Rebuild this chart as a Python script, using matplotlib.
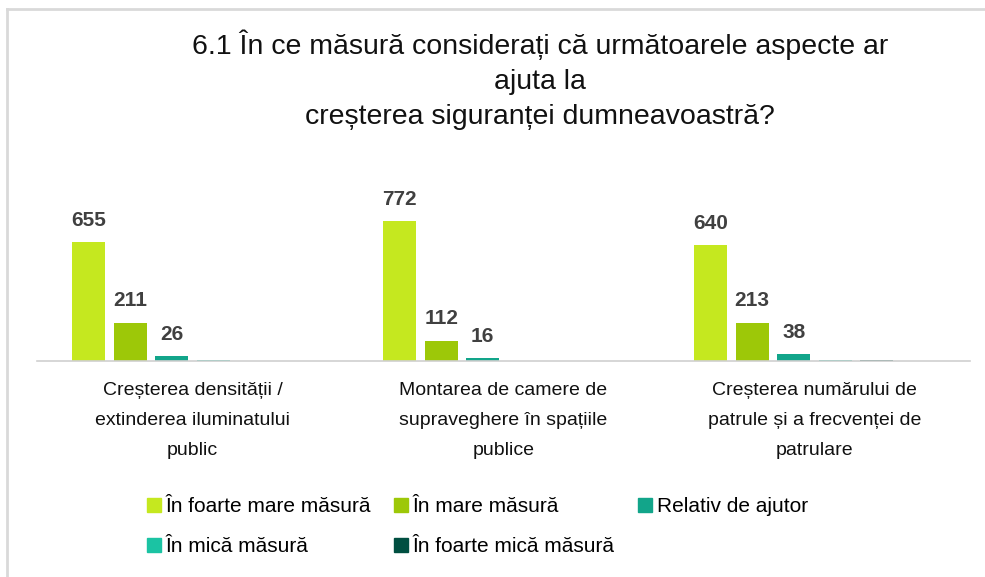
import matplotlib.pyplot as plt
from matplotlib.lines import Line2D
import numpy as np

plt.rcParams['font.family'] = ['Liberation Sans', 'DejaVu Sans']

categories = ["Creșterea densității /\nextinderea iluminatului\npublic",
              "Montarea de camere de\nsupraveghere în spațiile\npublice",
              "Creșterea numărului de\npatrule și a frecvenței de\npatrulare"]

series_names = ["În foarte mare măsură", "În mare măsură", "Relativ de ajutor",
                "În mică măsură", "În foarte mică măsură", ""]

foarte_mare = [655, 772, 640]
mare = [211, 112, 213]
relativ = [26, 16, 38]
mica = [7, 2, 6]
foarte_mica = [1, 3, 6]
nu_stiu = [3, 3, 3]

colors = ["#C5E81F", "#9DC808", "#12A58A", "#1BC3A3", "#004F41", "#8C8C8C"]

values = [foarte_mare, mare, relativ, mica, foarte_mica, nu_stiu]

fig = plt.figure(figsize=(9.85, 5.77), dpi=100)
ax = fig.add_axes([0.0376, 0.374, 0.947, 0.283])

x = np.arange(len(categories))
slot = 0.1334
width = 0.106
handles = []
for i, (vals, col) in enumerate(zip(values, colors)):
    pos = x + (i - 2.5) * slot
    bars = ax.bar(pos, vals, width, color=col, zorder=2)
    if i < 3:
        for b, v in zip(bars, vals):
            ax.annotate(str(v), (b.get_x() + b.get_width() / 2, v), xytext=(0, 9),
                        textcoords='offset points', ha='center', va='bottom',
                        fontsize=15, fontweight='bold', color='#404040')
    if series_names[i]:
        handles.append(Line2D([], [], marker='s', linestyle='none', markersize=10,
                              markerfacecolor=col, markeredgecolor=col))

ax.set_xlim(-0.5, 2.5)
ax.set_ylim(0, 900)
ax.set_xticks(x)
ax.set_xticklabels(categories, fontsize=14, linespacing=2.0, color='#111111')
ax.tick_params(axis='x', length=0, pad=15)
ax.set_yticks([])
for s in ['top', 'left', 'right']:
    ax.spines[s].set_visible(False)
ax.spines['bottom'].set_color('#d0d0d0')
ax.spines['bottom'].set_linewidth(1.2)

# legend: 3 entries on the first row, 2 on the second
order = [0, 3, 1, 4, 2]
fig.legend([handles[k] for k in order], [series_names[k] for k in order],
           ncol=3, loc='center', bbox_to_anchor=(0.483, 0.0875), frameon=False,
           fontsize=15, handletextpad=0.05, columnspacing=0.95, labelspacing=1.0,
           handlelength=1.0)

fig.text(0.548, 0.861, "6.1 În ce măsură considerați că următoarele aspecte ar\najuta la\ncreșterea siguranței dumneavoastră?",
         ha='center', va='center', fontsize=20.5, linespacing=1.45, color='#111111')

# chart border (top and left edges)
fig.add_artist(Line2D([0.0075, 1.0], [0.985, 0.985], color='#d9d9d9', lw=2, transform=fig.transFigure))
fig.add_artist(Line2D([0.0075, 0.0075], [0.0, 0.985], color='#d9d9d9', lw=2, transform=fig.transFigure))

fig.savefig("out.png", dpi=100)
